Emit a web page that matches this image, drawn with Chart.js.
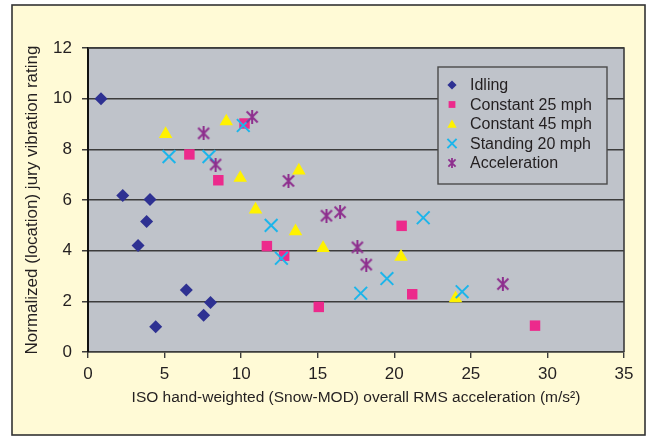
<!DOCTYPE html>
<html>
<head>
<meta charset="utf-8">
<script src="https://cdn.jsdelivr.net/npm/chart.js@4/dist/chart.umd.min.js"></script>
<style>
  html, body { margin: 0; padding: 0; background: #ffffff; }
  #wrap { width: 647px; height: 436px; position: relative; }
</style>
</head>
<body>
<div id="wrap"><canvas id="c" width="647" height="436"></canvas></div>
<script>
// ---- Data ----
const seriesNames = ['Idling', 'Constant 25 mph', 'Constant 45 mph', 'Standing 20 mph', 'Acceleration'];

const idlingX = [0.85, 2.27, 4.05, 3.83, 3.27, 6.42, 8.0, 7.55, 4.42];
const idlingY = [10.0, 6.18, 6.02, 5.15, 4.2, 2.45, 1.95, 1.45, 1.0];

const const25X = [6.62, 8.51, 10.22, 11.68, 12.81, 15.07, 20.48, 21.17, 29.19];
const const25Y = [7.8, 6.78, 9.02, 4.18, 3.8, 1.78, 4.98, 2.28, 1.04];

const const45X = [5.07, 9.03, 9.94, 10.94, 13.77, 13.55, 15.35, 20.44, 24.0];
const const45Y = [8.6, 9.1, 6.87, 5.62, 7.16, 4.76, 4.1, 3.76, 2.12];

const stand20X = [5.29, 7.9, 10.14, 11.96, 12.63, 17.81, 19.52, 21.89, 24.43];
const stand20Y = [7.71, 7.71, 8.94, 5.0, 3.7, 2.32, 2.9, 5.3, 2.38];

const accelX = [7.55, 8.33, 10.72, 13.09, 15.57, 16.46, 17.59, 18.17, 27.09];
const accelY = [8.63, 7.4, 9.28, 6.75, 5.38, 5.52, 4.13, 3.45, 2.68];

const xTicks = [0, 5, 10, 15, 20, 25, 30, 35];
const yTicks = [0, 2, 4, 6, 8, 10, 12];

const xTitle = 'ISO hand-weighted (Snow-MOD) overall RMS acceleration (m/s\u00B2)';
const yTitle = 'Normalized (location) jury vibration rating';

// ---- Styles ----
const FONT = "'Liberation Sans', Arial, sans-serif";
const TEXT = '#231f20';
const colors = ['#2e3192', '#ec2a8c', '#fff200', '#1cb5ea', '#8e2f8e'];

function makeStar(size, color, lw) {
  const cv = document.createElement('canvas');
  cv.width = size; cv.height = size;
  const g = cv.getContext('2d');
  g.strokeStyle = color; g.lineWidth = lw; g.lineCap = 'butt';
  const m = lw / 2 + 0.5;
  g.beginPath();
  g.moveTo(m, m); g.lineTo(size - m, size - m);
  g.moveTo(size - m, m); g.lineTo(m, size - m);
  g.moveTo(size / 2, 0); g.lineTo(size / 2, size);
  g.stroke();
  return cv;
}
const starBig = makeStar(14, colors[4], 2);
const starSmall = makeStar(10, colors[4], 1.8);

function pts(xs, ys) { return xs.map((x, i) => ({ x: x, y: ys[i] })); }

const styles = [
  { pointStyle: 'rectRot', radius: 6.5, lgRadius: 4.6, borderWidth: 0 },
  { pointStyle: 'rect', radius: 7.4, lgRadius: 4.8, borderWidth: 0 },
  { pointStyle: 'triangle', radius: 7.8, lgRadius: 5.4, borderWidth: 0 },
  { pointStyle: 'crossRot', radius: 9, lgRadius: 6.5, borderWidth: 2 },
  { pointStyle: starBig, lgStyle: starSmall, radius: 7, lgRadius: 5, borderWidth: 0 }
];

const allData = [
  pts(idlingX, idlingY), pts(const25X, const25Y), pts(const45X, const45Y),
  pts(stand20X, stand20Y), pts(accelX, accelY)
];

const datasets = seriesNames.map((name, i) => ({
  label: name,
  data: allData[i],
  showLine: false,
  order: 5 - i,
  pointStyle: styles[i].pointStyle,
  pointRadius: styles[i].radius,
  pointHoverRadius: styles[i].radius,
  pointBorderWidth: styles[i].borderWidth,
  pointBackgroundColor: colors[i],
  pointBorderColor: colors[i]
}));

const framePlugin = {
  id: 'frame',
  beforeDraw(chart) {
    const ctx = chart.ctx, a = chart.chartArea;
    ctx.save();
    ctx.fillStyle = '#ffffff';
    ctx.fillRect(0, 0, chart.width, chart.height);
    ctx.fillStyle = '#fffad6';
    ctx.fillRect(12, 5, 633, 430);
    ctx.strokeStyle = '#333333';
    ctx.lineWidth = 1.6;
    ctx.strokeRect(12, 5, 633, 430);
    ctx.fillStyle = '#bfc3ca';
    ctx.fillRect(a.left, a.top, a.right - a.left, a.bottom - a.top);
    ctx.restore();
  },
  beforeDatasetsDraw(chart) {
    const ctx = chart.ctx, a = chart.chartArea;
    ctx.save();
    ctx.strokeStyle = '#3c3c3c';
    ctx.lineWidth = 1.6;
    ctx.beginPath();
    ctx.moveTo(a.left, a.top);
    ctx.lineTo(a.right, a.top);
    ctx.lineTo(a.right, a.bottom);
    ctx.stroke();
    // legend box
    const lx = 438, ly = 67, lw = 169, lh = 117;
    ctx.fillStyle = '#bfc3ca';
    ctx.fillRect(lx, ly, lw, lh);
    ctx.strokeStyle = '#4a4a4a';
    ctx.lineWidth = 1.4;
    ctx.strokeRect(lx, ly, lw, lh);
    ctx.restore();
  },
  afterDatasetsDraw(chart) {
    const ctx = chart.ctx;
    ctx.save();
    const rows = [85, 104.5, 124, 143.5, 163];
    ctx.font = '16px ' + FONT;
    ctx.textBaseline = 'middle';
    ctx.textAlign = 'left';
    chart.data.datasets.forEach((ds, i) => {
      const st = styles[i];
      const y = rows[i];
      ctx.fillStyle = colors[i];
      ctx.strokeStyle = colors[i];
      ctx.lineWidth = st.borderWidth || 1;
      const opts = { pointStyle: st.lgStyle || st.pointStyle, radius: st.lgRadius, rotation: 0, borderWidth: st.borderWidth };
      Chart.helpers.drawPoint(ctx, opts, 452, i === 2 ? y + 1 : y);
      ctx.fillStyle = TEXT;
      ctx.fillText(ds.label, 470, y + 1);
    });
    ctx.restore();
  }
};

new Chart(document.getElementById('c'), {
  type: 'scatter',
  data: { datasets: datasets },
  plugins: [framePlugin],
  options: {
    responsive: false,
    animation: false,
    events: [],
    layout: { padding: { left: 0, top: 48, right: 23, bottom: 0 } },
    plugins: { legend: { display: false }, tooltip: { enabled: false } },
    scales: {
      x: {
        type: 'linear', min: 0, max: 35,
        afterFit(s) { s.height = 84; },
        afterBuildTicks(s) { s.ticks = xTicks.map(v => ({ value: v })); },
        ticks: { font: { family: FONT, size: 17 }, color: TEXT, padding: 6, maxRotation: 0 },
        grid: { drawOnChartArea: false, tickLength: 6, tickColor: '#3c3c3c', lineWidth: 1.4 },
        border: { color: '#3c3c3c', width: 1.6 },
        title: { display: true, text: xTitle, font: { family: FONT, size: 15.5 }, color: TEXT, padding: { top: 0, bottom: 29 } }
      },
      y: {
        type: 'linear', min: 0, max: 12,
        afterFit(s) { s.width = 88; },
        afterBuildTicks(s) { s.ticks = yTicks.map(v => ({ value: v })); },
        ticks: { font: { family: FONT, size: 17 }, color: TEXT, padding: 10 },
        grid: { color: '#3c3c3c', lineWidth: 1.5, tickLength: 6, tickColor: '#3c3c3c' },
        border: { color: '#111111', width: 2 },
        title: { display: true, text: yTitle, font: { family: FONT, size: 17 }, color: TEXT, padding: { top: 22, bottom: 0 } }
      }
    }
  }
});
</script>
</body>
</html>
